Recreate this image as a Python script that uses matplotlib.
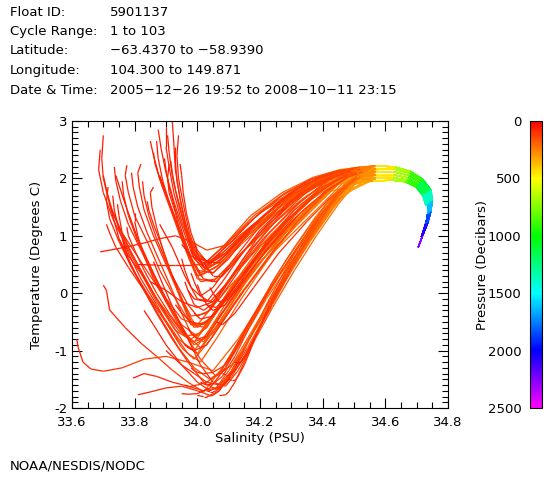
import matplotlib
matplotlib.use("Agg")
import matplotlib.pyplot as plt
from matplotlib.collections import LineCollection
from matplotlib.colors import LinearSegmentedColormap, Normalize
from matplotlib.ticker import MultipleLocator
import matplotlib.colorbar as mcolorbar

# ---------------- data ----------------
header_keys = ["Float ID:", "Cycle Range:", "Latitude:", "Longitude:", "Date & Time:"]
header_vals = ["5901137", "1 to 103", "\u221263.4370 to \u221258.9390",
               "104.300 to 149.871", "2005\u221212\u221226 19:52 to 2008\u221210\u221211 23:15"]

# pressure levels (dbar) of the successive points in the upper part of each profile
upper_levels = [50, 60, 70, 80, 90, 100, 115, 130, 150, 170, 190, 210, 240, 280]

# deep branches (below the temperature maximum)
deep_sal = [
    [34.57, 34.63, 34.68, 34.72, 34.745, 34.75, 34.745, 34.735, 34.72, 34.705],
    [34.57, 34.63, 34.675, 34.71, 34.735, 34.742, 34.738, 34.728, 34.715],
    [34.57, 34.625, 34.67, 34.70, 34.725, 34.735, 34.735, 34.728],
    [34.57, 34.63, 34.678, 34.715, 34.74, 34.746, 34.74, 34.73, 34.718],
    [34.57, 34.627, 34.672, 34.705, 34.73, 34.738, 34.736],
    [34.56, 34.62, 34.665, 34.698, 34.72, 34.73],
]
deep_temp = [
    [2.22, 2.20, 2.12, 1.98, 1.80, 1.62, 1.42, 1.22, 1.02, 0.80],
    [2.12, 2.11, 2.05, 1.93, 1.77, 1.58, 1.40, 1.20, 0.98],
    [2.00, 2.01, 1.97, 1.88, 1.73, 1.55, 1.38, 1.15],
    [2.17, 2.16, 2.09, 1.96, 1.79, 1.60, 1.41, 1.21, 1.00],
    [2.06, 2.06, 2.01, 1.90, 1.75, 1.56, 1.38],
    [1.95, 1.97, 1.94, 1.85, 1.70, 1.52],
]
deep_pres = [
    [350, 550, 800, 1000, 1250, 1500, 1750, 1950, 2150, 2400],
    [350, 550, 800, 1000, 1250, 1500, 1750, 1950, 2200],
    [350, 550, 800, 1000, 1250, 1500, 1750, 2000],
    [350, 550, 800, 1000, 1250, 1500, 1750, 1950, 2200],
    [350, 550, 800, 1000, 1250, 1500, 1750],
    [350, 550, 800, 1000, 1250, 1500],
]

# warm surface profiles (middle cluster)
warm_sal = [
    [33.92, 33.925, 33.93, 33.945, 33.965, 33.99, 34.03, 34.10, 34.20, 34.30, 34.40, 34.48],
    [33.875, 33.885, 33.90, 33.925, 33.955, 33.985, 34.02, 34.09, 34.18, 34.28, 34.38, 34.47],
    [33.86, 33.865, 33.885, 33.915, 33.945, 33.975, 34.00, 34.06, 34.15, 34.25, 34.35, 34.45],
    [33.905, 33.91, 33.92, 33.94, 33.965, 33.99, 34.02, 34.08, 34.17, 34.27, 34.37, 34.46],
    [33.895, 33.90, 33.91, 33.93, 33.955, 33.98, 34.01, 34.07, 34.16, 34.26, 34.36, 34.46],
    [33.85, 33.86, 33.88, 33.91, 33.94, 33.97, 34.00, 34.05, 34.14, 34.24, 34.34, 34.44],
    [33.94, 33.935, 33.94, 33.955, 33.975, 34.00, 34.04, 34.11, 34.21, 34.31, 34.41, 34.49],
    [33.91, 33.905, 33.91, 33.93, 33.95, 33.98, 34.01, 34.06, 34.15, 34.25, 34.35, 34.45],
    [33.93, 33.93, 33.935, 33.95, 33.97, 33.99, 34.02, 34.08, 34.17, 34.27, 34.37, 34.46],
    [33.88, 33.89, 33.905, 33.93, 33.96, 33.985, 34.01, 34.07, 34.16, 34.26, 34.36, 34.45],
    [33.915, 33.92, 33.93, 33.95, 33.97, 33.995, 34.03, 34.10, 34.19, 34.29, 34.39, 34.47],
    [33.87, 33.875, 33.89, 33.915, 33.945, 33.97, 34.00, 34.05, 34.13, 34.23, 34.33, 34.43],
    [33.945, 33.95, 33.955, 33.965, 33.98, 34.00, 34.03, 34.09, 34.18, 34.28, 34.38, 34.47],
    [33.90, 33.90, 33.91, 33.925, 33.95, 33.98, 34.02, 34.08, 34.16, 34.25, 34.35, 34.45],
]
warm_temp = [
    [3.00, 2.60, 2.15, 1.65, 1.15, 0.75, 0.55, 0.90, 1.40, 1.72, 2.00, 2.15],
    [2.85, 2.50, 2.10, 1.60, 1.10, 0.65, 0.40, 0.75, 1.20, 1.62, 1.95, 2.12],
    [2.45, 2.25, 1.90, 1.45, 1.00, 0.60, 0.30, 0.45, 0.95, 1.40, 1.80, 2.05],
    [2.75, 2.45, 2.05, 1.55, 1.05, 0.60, 0.45, 0.65, 1.10, 1.55, 1.90, 2.10],
    [2.35, 2.15, 1.85, 1.45, 1.00, 0.62, 0.35, 0.55, 1.05, 1.50, 1.86, 2.08],
    [2.65, 2.40, 2.00, 1.60, 1.15, 0.70, 0.40, 0.35, 0.85, 1.35, 1.75, 2.02],
    [2.75, 2.40, 2.00, 1.55, 1.05, 0.65, 0.50, 0.95, 1.45, 1.80, 2.05, 2.18],
    [2.25, 2.00, 1.75, 1.40, 0.95, 0.55, 0.20, 0.25, 0.75, 1.25, 1.70, 2.00],
    [2.55, 2.30, 1.95, 1.50, 1.05, 0.70, 0.50, 0.80, 1.35, 1.75, 2.02, 2.16],
    [2.05, 1.90, 1.65, 1.30, 0.90, 0.55, 0.30, 0.50, 1.00, 1.48, 1.85, 2.06],
    [2.30, 2.10, 1.80, 1.40, 1.00, 0.62, 0.42, 0.70, 1.20, 1.62, 1.96, 2.12],
    [2.65, 2.35, 1.95, 1.50, 1.05, 0.65, 0.25, 0.20, 0.65, 1.15, 1.62, 1.98],
    [2.25, 2.05, 1.75, 1.40, 1.05, 0.75, 0.55, 0.85, 1.35, 1.75, 2.02, 2.16],
    [2.90, 2.55, 2.20, 1.75, 1.25, 0.80, 0.45, 0.55, 1.00, 1.45, 1.85, 2.08],
]
warm_deep = [0, 3, 1, 0, 4, 2, 0, 5, 3, 4, 1, 2, 0, 3]

# fresh surface profiles (left cluster) and upper-band profiles
fresh_sal = [
    [33.70, 33.695, 33.70, 33.72, 33.76, 33.82, 33.88, 33.95, 34.00, 34.10, 34.22, 34.34, 34.45],
    [33.775, 33.77, 33.78, 33.80, 33.84, 33.88, 33.93, 33.98, 34.04, 34.14, 34.26, 34.38, 34.48],
    [33.82, 33.81, 33.815, 33.83, 33.86, 33.90, 33.94, 33.98, 34.03, 34.12, 34.24, 34.36, 34.47],
    [33.86, 33.85, 33.855, 33.87, 33.89, 33.92, 33.95, 33.98, 34.03, 34.12, 34.23, 34.35, 34.46],
    [33.69, 33.685, 33.70, 33.73, 33.77, 33.82, 33.87, 33.93, 33.99, 34.08, 34.19, 34.31, 34.43],
    [33.715, 33.71, 33.72, 33.75, 33.79, 33.84, 33.89, 33.94, 33.99, 34.07, 34.17, 34.29, 34.41],
    [33.745, 33.75, 33.76, 33.79, 33.83, 33.87, 33.92, 33.96, 34.01, 34.09, 34.20, 34.32, 34.43],
    [33.735, 33.74, 33.755, 33.78, 33.82, 33.86, 33.90, 33.95, 34.00, 34.09, 34.20, 34.32, 34.44],
    [33.80, 33.80, 33.81, 33.83, 33.86, 33.90, 33.94, 33.98, 34.02, 34.10, 34.21, 34.33, 34.45],
    [33.825, 33.83, 33.845, 33.87, 33.90, 33.93, 33.96, 33.99, 34.04, 34.13, 34.24, 34.36, 34.47],
    [33.775, 33.78, 33.80, 33.83, 33.87, 33.91, 33.95, 33.99, 34.05, 34.14, 34.25, 34.37, 34.47],
    [33.69, 33.75, 33.82, 33.88, 33.93, 33.98, 34.03, 34.10, 34.19, 34.29, 34.39, 34.47],
    [33.81, 33.87, 33.93, 33.98, 34.02, 34.08, 34.16, 34.26, 34.36, 34.45],
    [33.88, 33.92, 33.96, 34.00, 34.05, 34.12, 34.21, 34.31, 34.40, 34.48],
    [33.96, 33.97, 33.99, 34.02, 34.07, 34.14, 34.23, 34.33, 34.42, 34.50],
    [33.70, 33.71, 33.73, 33.77, 33.82, 33.87, 33.92, 33.96, 34.00, 34.06, 34.15, 34.26, 34.37, 34.46],
    [33.73, 33.735, 33.75, 33.78, 33.82, 33.87, 33.91, 33.95, 33.99, 34.05, 34.14, 34.25, 34.36, 34.46],
    [33.76, 33.765, 33.78, 33.81, 33.85, 33.89, 33.93, 33.97, 34.01, 34.07, 34.16, 34.27, 34.38, 34.47],
    [33.79, 33.795, 33.81, 33.84, 33.88, 33.92, 33.95, 33.98, 34.02, 34.08, 34.18, 34.29, 34.40, 34.48],
    [33.84, 33.845, 33.86, 33.885, 33.91, 33.94, 33.97, 34.00, 34.05, 34.13, 34.23, 34.34, 34.44],
    [33.71, 33.72, 33.74, 33.78, 33.83, 33.88, 33.93, 33.97, 34.01, 34.06, 34.14, 34.24, 34.35, 34.45],
    [33.75, 33.76, 33.78, 33.82, 33.86, 33.90, 33.94, 33.98, 34.03, 34.10, 34.20, 34.31, 34.42],
    [33.85, 33.90, 33.95, 34.00, 34.05, 34.11, 34.19, 34.29, 34.39, 34.47],
    [33.95, 33.96, 33.98, 34.01, 34.05, 34.11, 34.19, 34.28, 34.37, 34.45],
    [33.92, 33.94, 33.97, 34.00, 34.04, 34.10, 34.18, 34.27, 34.36, 34.45],
    [33.99, 34.00, 34.02, 34.05, 34.10, 34.17, 34.26, 34.35, 34.44, 34.51],
    [33.98, 33.99, 34.01, 34.04, 34.09, 34.16, 34.25, 34.34, 34.43, 34.50],
    [33.93, 33.95, 33.98, 34.02, 34.08, 34.15, 34.24, 34.33, 34.42, 34.49],
    [34.00, 34.01, 34.03, 34.06, 34.11, 34.18, 34.27, 34.37, 34.45, 34.52],
    [33.97, 33.98, 34.00, 34.03, 34.08, 34.14, 34.22, 34.31, 34.40, 34.48],
    [34.02, 34.03, 34.05, 34.08, 34.13, 34.20, 34.29, 34.38, 34.46, 34.52],
    [33.96, 33.97, 33.99, 34.03, 34.08, 34.15, 34.23, 34.32, 34.41, 34.48],
    [34.04, 34.05, 34.07, 34.10, 34.15, 34.22, 34.31, 34.40, 34.48, 34.53],
    [33.98, 34.00, 34.04, 34.10, 34.18, 34.27, 34.36, 34.44, 34.51],
    [33.95, 33.98, 34.03, 34.09, 34.17, 34.26, 34.35, 34.44, 34.50],
    [34.00, 34.02, 34.06, 34.12, 34.20, 34.29, 34.38, 34.46, 34.52],
    [34.03, 34.05, 34.09, 34.15, 34.23, 34.32, 34.41, 34.48, 34.53],
    [34.06, 34.08, 34.12, 34.18, 34.26, 34.35, 34.43, 34.50, 34.54],
    [33.99, 34.01, 34.05, 34.11, 34.19, 34.28, 34.37, 34.45, 34.51],
    [34.01, 34.03, 34.07, 34.13, 34.21, 34.30, 34.39, 34.47, 34.52],
    [33.97, 33.99, 34.03, 34.08, 34.15, 34.24, 34.33, 34.42, 34.49],
]
fresh_temp = [
    [2.75, 2.35, 2.00, 1.55, 1.05, 0.55, 0.05, -0.45, -0.55, 0.10, 0.80, 1.45, 1.95],
    [2.23, 2.05, 1.75, 1.35, 0.90, 0.40, -0.10, -0.55, -0.50, 0.30, 1.00, 1.60, 2.02],
    [2.25, 2.10, 1.85, 1.45, 1.00, 0.50, 0.00, -0.40, -0.35, 0.35, 1.05, 1.62, 2.02],
    [1.85, 1.75, 1.50, 1.15, 0.75, 0.30, -0.15, -0.55, -0.60, 0.20, 0.90, 1.50, 1.98],
    [2.50, 2.15, 1.75, 1.30, 0.85, 0.35, -0.15, -0.65, -0.85, -0.20, 0.55, 1.25, 1.85],
    [1.85, 1.60, 1.30, 0.90, 0.45, 0.00, -0.40, -0.80, -1.00, -0.40, 0.35, 1.10, 1.75],
    [1.55, 1.35, 1.05, 0.70, 0.30, -0.10, -0.45, -0.75, -0.70, -0.05, 0.65, 1.30, 1.88],
    [2.20, 1.95, 1.60, 1.20, 0.75, 0.30, -0.15, -0.55, -0.75, -0.05, 0.65, 1.30, 1.92],
    [1.40, 1.25, 1.00, 0.65, 0.25, -0.15, -0.55, -0.85, -0.80, -0.10, 0.60, 1.25, 1.90],
    [1.95, 1.70, 1.35, 0.95, 0.55, 0.15, -0.25, -0.60, -0.45, 0.25, 0.95, 1.55, 2.00],
    [1.15, 1.00, 0.75, 0.40, 0.00, -0.35, -0.65, -0.90, -0.70, 0.00, 0.75, 1.40, 1.95],
    [0.72, 0.78, 0.86, 0.95, 1.00, 0.90, 0.75, 0.85, 1.25, 1.68, 2.00, 2.14],
    [0.50, 0.49, 0.49, 0.49, 0.50, 0.70, 1.10, 1.55, 1.92, 2.10],
    [1.20, 0.80, 0.30, -0.10, -0.15, 0.35, 0.95, 1.50, 1.90, 2.10],
    [0.20, 0.05, -0.20, -0.30, -0.10, 0.45, 1.05, 1.60, 1.98, 2.15],
    [2.05, 1.80, 1.40, 0.90, 0.40, -0.10, -0.55, -0.90, -1.05, -0.60, 0.15, 0.95, 1.55, 1.98],
    [1.70, 1.45, 1.10, 0.70, 0.25, -0.20, -0.60, -0.95, -1.15, -0.75, 0.00, 0.80, 1.45, 1.95],
    [1.95, 1.70, 1.35, 0.90, 0.45, 0.00, -0.40, -0.75, -0.95, -0.50, 0.25, 1.00, 1.58, 2.00],
    [2.10, 1.85, 1.50, 1.05, 0.55, 0.05, -0.35, -0.70, -0.85, -0.35, 0.40, 1.10, 1.70, 2.05],
    [1.60, 1.45, 1.20, 0.85, 0.45, 0.05, -0.35, -0.60, -0.40, 0.25, 0.95, 1.55, 2.00],
    [1.20, 1.05, 0.80, 0.45, 0.05, -0.35, -0.75, -1.05, -1.20, -0.80, -0.10, 0.70, 1.40, 1.92],
    [0.95, 0.85, 0.65, 0.35, 0.00, -0.35, -0.65, -0.80, -0.60, 0.05, 0.80, 1.45, 1.95],
    [0.20, 0.05, -0.15, -0.25, -0.15, 0.30, 0.95, 1.55, 1.95, 2.12],
    [0.60, 0.40, 0.10, -0.05, 0.10, 0.55, 1.10, 1.60, 1.95, 2.12],
    [0.30, 0.10, -0.20, -0.40, -0.30, 0.20, 0.80, 1.40, 1.85, 2.08],
    [0.90, 0.70, 0.45, 0.35, 0.60, 1.10, 1.60, 1.95, 2.12, 2.18],
    [0.35, 0.20, -0.05, -0.15, 0.15, 0.70, 1.25, 1.72, 2.02, 2.14],
    [-0.20, -0.35, -0.50, -0.55, -0.20, 0.35, 0.95, 1.50, 1.90, 2.10],
    [0.15, 0.00, -0.20, -0.25, 0.05, 0.60, 1.20, 1.70, 2.00, 2.15],
    [-0.60, -0.70, -0.80, -0.75, -0.35, 0.15, 0.75, 1.35, 1.82, 2.06],
    [0.55, 0.45, 0.30, 0.30, 0.60, 1.10, 1.58, 1.92, 2.10, 2.17],
    [-0.90, -0.95, -1.00, -0.90, -0.50, 0.05, 0.65, 1.25, 1.75, 2.02],
    [0.10, 0.00, -0.15, -0.10, 0.30, 0.90, 1.45, 1.85, 2.08, 2.16],
    [0.75, 0.60, 0.55, 0.85, 1.30, 1.70, 1.98, 2.12, 2.18],
    [0.85, 0.65, 0.50, 0.70, 1.15, 1.58, 1.92, 2.10, 2.16],
    [0.40, 0.25, 0.20, 0.55, 1.05, 1.52, 1.88, 2.08, 2.16],
    [-0.20, -0.30, -0.20, 0.25, 0.80, 1.35, 1.78, 2.02, 2.12],
    [-0.50, -0.55, -0.35, 0.10, 0.70, 1.25, 1.70, 1.98, 2.08],
    [-0.35, -0.45, -0.40, 0.05, 0.65, 1.22, 1.68, 1.98, 2.10],
    [0.65, 0.55, 0.55, 0.90, 1.35, 1.75, 2.02, 2.15, 2.20],
    [0.05, -0.10, -0.15, 0.20, 0.75, 1.30, 1.75, 2.02, 2.13],
]
fresh_deep = [0, 1, 2, 1, 0, 2, 1, 0, 2, 1, 2, 0, 1, 2, 0, 3, 4, 5, 3, 4, 5, 3, 4,
              0, 1, 3, 4, 2, 0, 5, 3, 1, 4, 0, 3, 1, 4, 2, 5, 0, 1]

# profiles with a cold winter-water minimum (lower band)
cold_sal = [
    [33.70, 33.71, 33.72, 33.77, 33.82, 33.87, 33.92, 33.97, 34.02, 34.08, 34.17, 34.26, 34.35, 34.44],
    [33.615, 33.62, 33.635, 33.66, 33.70, 33.76, 33.83, 33.90, 33.97, 34.05, 34.13, 34.22, 34.31, 34.40],
    [33.795, 33.83, 33.87, 33.92, 33.97, 34.02, 34.06, 34.10, 34.15, 34.21, 34.28, 34.35, 34.42, 34.49],
    [33.81, 33.85, 33.90, 33.95, 34.00, 34.04, 34.07, 34.11, 34.16, 34.22, 34.29, 34.36, 34.43, 34.50],
    [34.00, 34.01, 34.02, 34.03, 34.05, 34.07, 34.10, 34.14, 34.19, 34.25, 34.32, 34.39, 34.46, 34.52],
    [34.03, 34.04, 34.05, 34.06, 34.08, 34.11, 34.15, 34.19, 34.24, 34.30, 34.36, 34.42, 34.48, 34.53],
    [33.96, 33.97, 33.98, 34.00, 34.03, 34.07, 34.11, 34.16, 34.22, 34.28, 34.35, 34.42, 34.48],
    [33.72, 33.75, 33.79, 33.84, 33.89, 33.94, 33.99, 34.04, 34.09, 34.15, 34.22, 34.30, 34.38, 34.46],
    [33.74, 33.77, 33.81, 33.86, 33.91, 33.96, 34.01, 34.06, 34.11, 34.17, 34.24, 34.32, 34.40, 34.47],
    [34.05, 34.06, 34.07, 34.09, 34.11, 34.14, 34.18, 34.23, 34.29, 34.35, 34.41, 34.47, 34.52],
    [34.10, 34.11, 34.12, 34.13, 34.15, 34.18, 34.22, 34.27, 34.33, 34.39, 34.45, 34.51],
    [33.98, 33.99, 34.00, 34.02, 34.05, 34.09, 34.13, 34.18, 34.24, 34.31, 34.38, 34.45, 34.51],
    [33.90, 33.92, 33.95, 33.99, 34.03, 34.07, 34.11, 34.16, 34.22, 34.29, 34.36, 34.43, 34.49],
    [33.83, 33.86, 33.90, 33.95, 34.00, 34.04, 34.08, 34.12, 34.17, 34.23, 34.30, 34.37, 34.44, 34.50],
    [33.76, 33.78, 33.82, 33.87, 33.92, 33.97, 34.02, 34.06, 34.10, 34.15, 34.21, 34.28, 34.36, 34.44],
    [33.86, 33.89, 33.93, 33.97, 34.01, 34.05, 34.09, 34.13, 34.18, 34.24, 34.31, 34.38, 34.45, 34.51],
    [34.07, 34.08, 34.09, 34.10, 34.12, 34.15, 34.19, 34.24, 34.30, 34.36, 34.42, 34.48, 34.53],
    [34.08, 34.09, 34.10, 34.12, 34.15, 34.19, 34.24, 34.30, 34.36, 34.42, 34.48, 34.53],
    [34.01, 34.02, 34.03, 34.05, 34.08, 34.12, 34.17, 34.23, 34.30, 34.37, 34.44, 34.50],
    [34.12, 34.13, 34.14, 34.16, 34.19, 34.23, 34.28, 34.34, 34.40, 34.46, 34.51],
    [33.95, 33.97, 34.00, 34.04, 34.09, 34.14, 34.20, 34.27, 34.34, 34.41, 34.47, 34.52],
]
cold_temp = [
    [0.14, 0.05, -0.29, -0.60, -0.87, -1.10, -1.34, -1.55, -1.72, -1.30, -0.50, 0.30, 1.05, 1.70],
    [-0.80, -0.95, -1.20, -1.32, -1.36, -1.30, -1.15, -1.10, -1.20, -1.35, -0.80, -0.05, 0.70, 1.40],
    [-1.48, -1.40, -1.45, -1.55, -1.62, -1.70, -1.65, -1.35, -0.95, -0.40, 0.20, 0.85, 1.40, 1.90],
    [-1.77, -1.72, -1.65, -1.62, -1.70, -1.78, -1.70, -1.40, -0.95, -0.35, 0.30, 0.90, 1.45, 1.93],
    [-1.78, -1.79, -1.80, -1.80, -1.78, -1.70, -1.45, -1.05, -0.55, 0.05, 0.65, 1.20, 1.70, 2.00],
    [-1.70, -1.72, -1.72, -1.70, -1.62, -1.45, -1.10, -0.70, -0.20, 0.40, 0.95, 1.45, 1.88, 2.05],
    [-1.60, -1.62, -1.62, -1.60, -1.55, -1.40, -1.05, -0.55, 0.00, 0.55, 1.10, 1.60, 1.95],
    [1.55, 0.95, 0.45, -0.05, -0.50, -0.95, -1.30, -1.50, -1.30, -0.75, -0.10, 0.55, 1.20, 1.75],
    [2.05, 1.55, 0.95, 0.35, -0.20, -0.70, -1.15, -1.45, -1.25, -0.70, -0.05, 0.60, 1.25, 1.80],
    [-1.65, -1.66, -1.65, -1.58, -1.40, -1.10, -0.65, -0.10, 0.50, 1.05, 1.55, 1.90, 2.08],
    [-1.50, -1.52, -1.52, -1.45, -1.25, -0.85, -0.35, 0.20, 0.80, 1.30, 1.75, 2.03],
    [-1.30, -1.35, -1.38, -1.40, -1.38, -1.25, -0.90, -0.40, 0.20, 0.80, 1.35, 1.80, 2.02],
    [-1.00, -1.10, -1.25, -1.40, -1.55, -1.60, -1.35, -0.85, -0.25, 0.40, 1.00, 1.55, 1.92],
    [-0.30, -0.55, -0.90, -1.25, -1.55, -1.70, -1.60, -1.25, -0.75, -0.15, 0.50, 1.10, 1.60, 1.95],
    [0.95, 0.60, 0.15, -0.35, -0.80, -1.20, -1.55, -1.68, -1.45, -0.95, -0.35, 0.30, 1.00, 1.65],
    [0.55, 0.15, -0.35, -0.80, -1.25, -1.55, -1.62, -1.35, -0.85, -0.25, 0.40, 1.00, 1.55, 1.95],
    [-1.78, -1.78, -1.77, -1.72, -1.55, -1.20, -0.70, -0.15, 0.45, 1.00, 1.50, 1.88, 2.06],
    [-1.40, -1.42, -1.42, -1.35, -1.10, -0.70, -0.15, 0.45, 1.00, 1.50, 1.88, 2.05],
    [-1.55, -1.58, -1.60, -1.58, -1.45, -1.10, -0.55, 0.05, 0.65, 1.20, 1.70, 2.00],
    [-1.20, -1.22, -1.20, -1.05, -0.70, -0.20, 0.35, 0.90, 1.40, 1.82, 2.02],
    [-1.75, -1.76, -1.75, -1.65, -1.30, -0.80, -0.20, 0.40, 0.95, 1.48, 1.85, 2.03],
]
cold_deep = [2, 1, 2, 1, 0, 2, 1, 2, 1, 5, 4, 3, 5, 4, 2, 5, 4, 3, 1, 5, 4]

pres_ticks = [0, 500, 1000, 1500, 2000, 2500]

# ---------------- figure ----------------
W, H = 560, 480
fig = plt.figure(figsize=(W / 100, H / 100), dpi=100)
plt.rcParams["font.family"] = ["DejaVu Sans"]


def fx(px):
    return px / W


def fy(py):
    return 1 - py / H


cmap = LinearSegmentedColormap.from_list(
    "pres", [(0.0, (1, 0, 0)), (0.2, (1, 1, 0)), (0.4, (0, 1, 0)),
             (0.6, (0, 1, 1)), (0.8, (0, 0, 1)), (1.0, (1, 0, 1))])
norm = Normalize(vmin=0, vmax=2500)

ax = fig.add_axes([fx(72), fy(408), fx(448) - fx(72), fy(121) - fy(408)])

segs, vals = [], []
for sal_list, temp_list, deep_list in [(warm_sal, warm_temp, warm_deep),
                                       (fresh_sal, fresh_temp, fresh_deep),
                                       (cold_sal, cold_temp, cold_deep)]:
    for s_up, t_up, d in zip(sal_list, temp_list, deep_list):
        s = list(s_up) + deep_sal[d]
        t = list(t_up) + deep_temp[d]
        p = upper_levels[:len(s_up)] + deep_pres[d]
        for i in range(len(s) - 1):
            segs.append([(s[i], t[i]), (s[i + 1], t[i + 1])])
            vals.append(0.5 * (p[i] + p[i + 1]))

lc = LineCollection(segs, cmap=cmap, norm=norm, linewidths=0.9)
lc.set_array(vals)
ax.add_collection(lc)

ax.set_xlim(33.6, 34.8)
ax.set_ylim(-2, 3)
ax.xaxis.set_major_locator(MultipleLocator(0.2))
ax.xaxis.set_minor_locator(MultipleLocator(0.05))
ax.yaxis.set_major_locator(MultipleLocator(1))
ax.yaxis.set_minor_locator(MultipleLocator(0.1))
ax.tick_params(which="both", direction="in", top=True, right=True,
               labelsize=9.5, width=0.8, colors="black")
ax.tick_params(which="major", length=7)
ax.tick_params(which="minor", length=4)
ax.tick_params(axis="x", which="major", pad=6)
ax.set_xticklabels([f"{v:.1f}" for v in ax.get_xticks()])
ax.set_yticklabels([f"{int(v)}" for v in ax.get_yticks()])
for sp in ax.spines.values():
    sp.set_linewidth(0.8)
ax.set_xlabel("Salinity (PSU)", fontsize=9.5, labelpad=2)
ax.set_ylabel("Temperature (Degrees C)", fontsize=9.5, labelpad=8)

# colorbar
cax = fig.add_axes([fx(530), fy(408), fx(542) - fx(530), fy(121) - fy(408)])
cb = mcolorbar.ColorbarBase(cax, cmap=cmap, norm=norm, orientation="vertical")
cax.invert_yaxis()
cb.set_ticks(pres_ticks)
cax.yaxis.set_ticks_position("left")
cax.yaxis.set_label_position("left")
cax.tick_params(length=0, labelsize=9.5, pad=6)
cb.outline.set_linewidth(0.8)
cb.set_label("Pressure (Decibars)", fontsize=9.5, labelpad=-1)

# header text
for i, (k, v) in enumerate(zip(header_keys, header_vals)):
    y = 12 + i * 19.5
    fig.text(fx(10), fy(y), k, fontsize=9.5, va="center", ha="left")
    fig.text(fx(110), fy(y), v, fontsize=9.5, va="center", ha="left")

fig.text(fx(10), fy(466), "NOAA/NESDIS/NODC", fontsize=9.5, va="center", ha="left")

fig.savefig("out.png", dpi=100)
